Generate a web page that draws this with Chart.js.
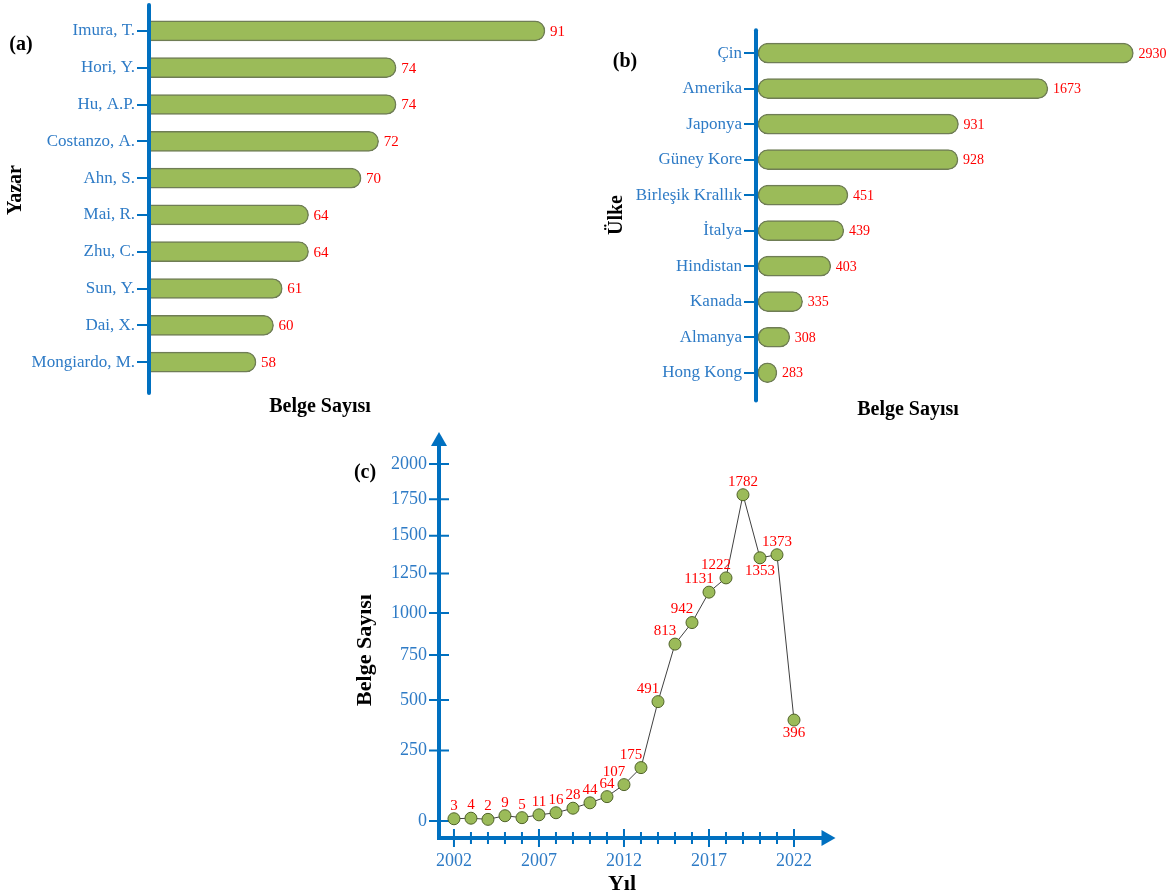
<!DOCTYPE html>
<html>
<head>
<meta charset="utf-8">
<script src="https://cdn.jsdelivr.net/npm/chart.js@4"></script>
<style>
  body { margin: 0; background: #fff; }
  canvas { position: absolute; }
  #chartA { left: 0; top: 0; }
  #chartB { left: 600px; top: 0; }
  #chartC { left: 340px; top: 425px; }
</style>
</head>
<body>
<canvas id="chartA" width="600" height="420"></canvas>
<canvas id="chartB" width="572" height="420"></canvas>
<canvas id="chartC" width="520" height="467"></canvas>
<script>
// data
var authors = ['Imura, T.', 'Hori, Y.', 'Hu, A.P.', 'Costanzo, A.', 'Ahn, S.', 'Mai, R.', 'Zhu, C.', 'Sun, Y.', 'Dai, X.', 'Mongiardo, M.'];
var authorDocs = [91, 74, 74, 72, 70, 64, 64, 61, 60, 58];

var countries = ['Çin', 'Amerika', 'Japonya', 'Güney Kore', 'Birleşik Krallık', 'İtalya', 'Hindistan', 'Kanada', 'Almanya', 'Hong Kong'];
var countryDocs = [2930, 1673, 931, 928, 451, 439, 403, 335, 308, 283];

var years = [2002, 2003, 2004, 2005, 2006, 2007, 2008, 2009, 2010, 2011, 2012, 2013, 2014, 2015, 2016, 2017, 2018, 2019, 2020, 2021, 2022];
var yearDocs = [3, 4, 2, 9, 5, 11, 16, 28, 44, 64, 107, 175, 491, 813, 942, 1131, 1222, 1782, 1353, 1373, 396];
var yearTicks = [2002, 2007, 2012, 2017, 2022];
var docTicks = [0, 250, 500, 750, 1000, 1250, 1500, 1750, 2000];

var AXIS_BLUE = '#0070C0';
var LABEL_BLUE = '#2E7BC6';
var BAR_GREEN = '#9BBB59';
var SERIF = "'Liberation Serif', 'Times New Roman', serif";

// y axis of (c) is stretched at the bottom, like a power scale
class PowerScale extends Chart.LinearScale {
    getPixelForValue(value) {
        if (value === null || isNaN(value)) {
            return NaN;
        }
        var o = this.options;
        var p = o.exponent || 1;
        var gapLo = o.startGap || 0, gapHi = o.endGap || 0;
        var f = Math.pow(Math.max(value - this.min, 0) / (this.max - this.min), p);
        var len = this.bottom - this.top - gapLo - gapHi;
        return this.bottom - gapLo - len * f;
    }
    getValueForPixel(pixel) {
        var o = this.options;
        var p = o.exponent || 1;
        var gapLo = o.startGap || 0, gapHi = o.endGap || 0;
        var len = this.bottom - this.top - gapLo - gapHi;
        var f = Math.max((this.bottom - gapLo - pixel) / len, 0);
        return this.min + Math.pow(f, 1 / p) * (this.max - this.min);
    }
}
PowerScale.id = 'power';
PowerScale.defaults = Chart.LinearScale.defaults;
Chart.register(PowerScale);

// free text: panel letters and axis titles
var panelText = {
    id: 'panelText',
    afterDraw: function(chart, args, opts) {
        var ctx = chart.ctx;
        (opts.items || []).forEach(function(t) {
            ctx.save();
            ctx.translate(t.x, t.y);
            if (t.rotate) ctx.rotate(t.rotate);
            ctx.font = t.font;
            ctx.fillStyle = '#000';
            ctx.textAlign = 'center';
            ctx.textBaseline = 'middle';
            ctx.fillText(t.text, 0, 0);
            ctx.restore();
        });
    }
};

// value labels and thick axis line for the bar panels
var barDecor = {
    id: 'barDecor',
    afterDatasetsDraw: function(chart, args, opts) {
        var ctx = chart.ctx;
        var a = chart.chartArea;
        var meta = chart.getDatasetMeta(0);
        var data = chart.data.datasets[0].data;
        ctx.save();
        ctx.strokeStyle = AXIS_BLUE;
        ctx.lineWidth = 4;
        ctx.lineCap = 'round';
        ctx.beginPath();
        ctx.moveTo(a.left - 2, a.top - opts.above);
        ctx.lineTo(a.left - 2, a.bottom + opts.below);
        ctx.stroke();
        ctx.font = opts.font;
        ctx.fillStyle = '#FF0000';
        ctx.textAlign = 'left';
        ctx.textBaseline = 'middle';
        meta.data.forEach(function(bar, i) {
            ctx.fillText(String(data[i]), bar.x + 5, bar.y + 1);
        });
        ctx.restore();
    }
};

function makeBarChart(id, labels, values, cfg) {
    return new Chart(document.getElementById(id), {
        type: 'bar',
        data: {
            labels: labels,
            datasets: [{
                data: values,
                backgroundColor: BAR_GREEN,
                borderColor: '#6F7D55',
                borderWidth: 1.5,
                borderRadius: 10,
                borderSkipped: false,
                barThickness: 20
            }]
        },
        options: {
            indexAxis: 'y',
            responsive: false,
            animation: false,
            layout: { padding: cfg.padding },
            plugins: {
                legend: { display: false },
                tooltip: { enabled: false },
                barDecor: { above: cfg.above, below: cfg.below, font: cfg.valueFont },
                panelText: { items: cfg.texts }
            },
            scales: {
                x: cfg.xScale,
                y: {
                    afterFit: function(scale) { scale.width = cfg.axisWidth; },
                    grid: { display: true, drawOnChartArea: false, offset: false, tickLength: 14, color: AXIS_BLUE, lineWidth: 2 },
                    border: { display: false },
                    ticks: { color: LABEL_BLUE, padding: 2, autoSkip: false, font: { family: SERIF, size: 17 } }
                }
            }
        },
        plugins: [barDecor, panelText]
    });
}

// (a) authors
makeBarChart('chartA', authors, authorDocs, {
    padding: { left: 0, top: 12.5, right: 20, bottom: 39.5 },
    axisWidth: 151,
    above: 7.5,
    below: 12.5,
    valueFont: '15px ' + SERIF,
    xScale: { type: 'linear', min: 46, max: 95, display: false },
    texts: [
        { text: '(a)', x: 21, y: 45, font: 'bold 20px ' + SERIF },
        { text: 'Yazar', x: 16, y: 190, rotate: -Math.PI / 2, font: 'bold 20px ' + SERIF },
        { text: 'Belge Sayısı', x: 320, y: 407, font: 'bold 20px ' + SERIF }
    ]
});

// (b) countries
makeBarChart('chartB', countries, countryDocs, {
    padding: { left: 0, top: 35.3, right: 35, bottom: 29.5 },
    axisWidth: 158,
    above: 5,
    below: 10,
    valueFont: '14px ' + SERIF,
    xScale: { type: 'logarithmic', min: 250, max: 3000, display: false },
    texts: [
        { text: '(b)', x: 25, y: 62, font: 'bold 20px ' + SERIF },
        { text: 'Ülke', x: 17, y: 215, rotate: -Math.PI / 2, font: 'bold 20px ' + SERIF },
        { text: 'Belge Sayısı', x: 308, y: 410, font: 'bold 20px ' + SERIF }
    ]
});

// (c) documents per year
var lineAxes = {
    id: 'lineAxes',
    beforeDatasetsDraw: function(chart) {
        var ctx = chart.ctx;
        var a = chart.chartArea;
        var xs = chart.scales.x, ys = chart.scales.y;
        var ax = a.left, ay = a.bottom;
        ctx.save();
        ctx.strokeStyle = AXIS_BLUE;
        ctx.fillStyle = AXIS_BLUE;
        ctx.lineWidth = 4;
        ctx.beginPath();
        ctx.moveTo(ax, ay + 2);
        ctx.lineTo(ax, a.top + 4);
        ctx.moveTo(ax - 2, ay);
        ctx.lineTo(a.right + 4, ay);
        ctx.stroke();
        ctx.beginPath();
        ctx.moveTo(ax, a.top - 8);
        ctx.lineTo(ax - 8, a.top + 6);
        ctx.lineTo(ax + 8, a.top + 6);
        ctx.closePath();
        ctx.fill();
        ctx.beginPath();
        ctx.moveTo(a.right + 16, ay);
        ctx.lineTo(a.right + 2, ay - 8);
        ctx.lineTo(a.right + 2, ay + 8);
        ctx.closePath();
        ctx.fill();
        ctx.lineWidth = 2;
        ctx.beginPath();
        ys.ticks.forEach(function(t) {
            var py = ys.getPixelForValue(t.value);
            ctx.moveTo(ax - 10, py);
            ctx.lineTo(ax + 10, py);
        });
        years.forEach(function(yr) {
            var px = xs.getPixelForValue(yr);
            var h = yearTicks.indexOf(yr) >= 0 ? 9 : 6;
            ctx.moveTo(px, ay - h);
            ctx.lineTo(px, ay + h);
        });
        ctx.stroke();
        ctx.restore();
    }
};

var pointLabels = {
    id: 'pointLabels',
    afterDatasetsDraw: function(chart, args, opts) {
        var ctx = chart.ctx;
        var meta = chart.getDatasetMeta(0);
        ctx.save();
        ctx.font = '15px ' + SERIF;
        ctx.fillStyle = '#FF0000';
        ctx.textAlign = 'center';
        ctx.textBaseline = 'middle';
        meta.data.forEach(function(pt, i) {
            var below = opts.below.indexOf(years[i]) >= 0;
            var dx = opts.leftOf.indexOf(years[i]) >= 0 ? -10 : 0;
            ctx.fillText(String(yearDocs[i]), pt.x + dx, pt.y + (below ? 13 : -13));
        });
        ctx.restore();
    }
};

new Chart(document.getElementById('chartC'), {
    type: 'line',
    data: {
        datasets: [{
            data: years.map(function(y, i) { return { x: y, y: yearDocs[i] }; }),
            borderColor: '#404040',
            borderWidth: 1,
            tension: 0,
            pointRadius: 6,
            pointBackgroundColor: BAR_GREEN,
            pointBorderColor: '#4F6228',
            pointBorderWidth: 1,
            clip: false
        }]
    },
    options: {
        responsive: false,
        animation: false,
        layout: { padding: { left: 0, top: 15, right: 40.5, bottom: 0 } },
        plugins: {
            legend: { display: false },
            tooltip: { enabled: false },
            pointLabels: { below: [2020, 2022], leftOf: [2012, 2013, 2014, 2015, 2016, 2017, 2018] },
            panelText: {
                items: [
                    { text: '(c)', x: 25, y: 48, font: 'bold 20px ' + SERIF },
                    { text: 'Belge Sayısı', x: 25, y: 225, rotate: -Math.PI / 2, font: 'bold 22px ' + SERIF },
                    { text: 'Yıl', x: 282, y: 459, font: 'bold 22px ' + SERIF }
                ]
            }
        },
        scales: {
            x: {
                type: 'linear',
                min: 2001.12,
                max: 2023.5,
                afterFit: function(scale) { scale.height = 54; },
                afterBuildTicks: function(scale) { scale.ticks = yearTicks.map(function(v) { return { value: v }; }); },
                grid: { display: false, drawTicks: true, tickLength: 9 },
                border: { display: false },
                ticks: { color: LABEL_BLUE, padding: 3, maxRotation: 0, font: { family: SERIF, size: 18 }, callback: function(v) { return String(v); } }
            },
            y: {
                type: 'power',
                min: 0,
                max: 2000,
                exponent: 0.78,
                startGap: 17,
                endGap: 24,
                afterFit: function(scale) { scale.width = 99; },
                afterBuildTicks: function(scale) { scale.ticks = docTicks.map(function(v) { return { value: v }; }); },
                grid: { display: false, drawTicks: true, tickLength: 11 },
                border: { display: false },
                ticks: { color: LABEL_BLUE, padding: 1, font: { family: SERIF, size: 18 }, callback: function(v) { return String(v); } }
            }
        }
    },
    plugins: [lineAxes, pointLabels, panelText]
});
</script>
</body>
</html>
